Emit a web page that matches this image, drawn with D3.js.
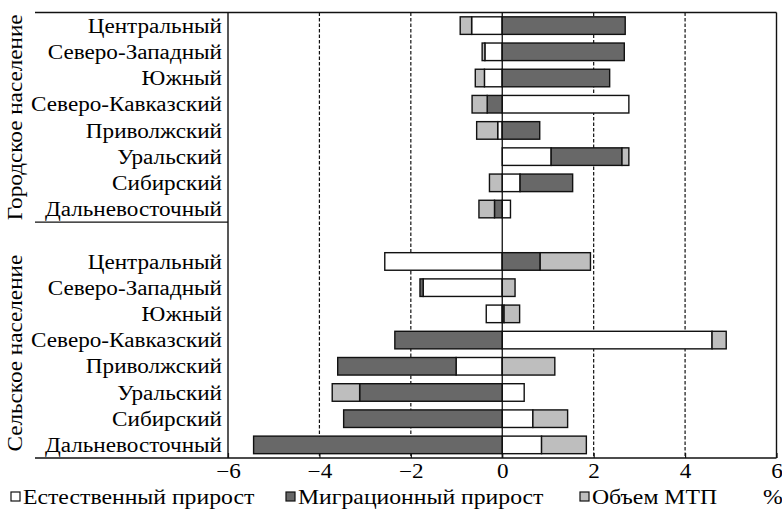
<!DOCTYPE html>
<html>
<head>
<meta charset="utf-8">
<script src="https://cdn.jsdelivr.net/npm/d3@7"></script>
<style>
  body { margin: 0; background: #fff; }
  text { font-family: "Liberation Serif", "Times New Roman", serif; fill: #000; }
</style>
</head>
<body>
<svg id="chart" width="782" height="511"></svg>
<script>
// Regions (same order in both groups)
const regions = ["Центральный", "Северо-Западный", "Южный", "Северо-Кавказский",
  "Приволжский", "Уральский", "Сибирский", "Дальневосточный"];
const groups = ["Городское население", "Сельское население"];

// Values, %
const urbanNatural   = [-0.67, -0.38, -0.39, 2.77, -0.10, 1.07, 0.39, 0.18];
const urbanMigration = [2.69, 2.67, 2.35, -0.33, 0.82, 1.55, 1.15, -0.17];
const urbanMtp       = [-0.25, -0.06, -0.20, -0.33, -0.46, 0.15, -0.28, -0.34];
const ruralNatural   = [-2.57, -1.73, -0.35, 4.59, -1.01, 0.48, 0.67, 0.86];
const ruralMigration = [0.83, -0.07, 0.04, -2.35, -2.59, -3.12, -3.47, -5.44];
const ruralMtp       = [1.10, 0.28, 0.34, 0.31, 1.15, -0.60, 0.76, 0.98];

const xTicks = [-6, -4, -2, 0, 2, 4, 6];
const keys = ["natural", "migration", "mtp"];
const legendLabels = ["Естественный прирост", "Миграционный прирост", "Объем МТП"];
const unitLabel = "%";

// rows: 8 urban, one empty slot, 8 rural
const rows = [
  ...regions.map((r, i) => ({id: "u" + i, region: r, natural: urbanNatural[i], migration: urbanMigration[i], mtp: urbanMtp[i]})),
  {id: "gap", region: "", natural: 0, migration: 0, mtp: 0},
  ...regions.map((r, i) => ({id: "r" + i, region: r, natural: ruralNatural[i], migration: ruralMigration[i], mtp: ruralMtp[i]}))
];

const svg = d3.select("#chart");
const plotTop = 12.5, plotBottom = 458, plotLeft = 228, plotRight = 776.5, frameLeft = 35;
const stretch = 1.13; // the original serif face is wider than Liberation Serif

const x = d3.scaleLinear([-6, 6], [plotLeft, plotRight]);
const y = d3.scaleBand(rows.map(d => d.id), [plotTop, plotBottom])
  .paddingInner(0.33).paddingOuter(0.165);
const color = d3.scaleOrdinal(keys, ["#ffffff", "#686868", "#bebebe"]);

// grid lines
svg.append("g")
  .selectAll("line")
  .data(xTicks.filter(t => t !== 0 && Math.abs(t) !== 6))
  .join("line")
    .attr("x1", d => x(d)).attr("x2", d => x(d))
    .attr("y1", plotTop).attr("y2", plotBottom)
    .attr("stroke", "#111").attr("stroke-width", 1.2)
    .attr("stroke-dasharray", "3.5,2");

// stacked bars (diverging)
const series = d3.stack().keys(keys).offset(d3.stackOffsetDiverging)(rows);
svg.append("g")
  .selectAll("g")
  .data(series)
  .join("g")
    .attr("fill", d => color(d.key))
  .selectAll("rect")
  .data(d => d.filter(p => p.data.id !== "gap" && p[1] !== p[0]))
  .join("rect")
    .attr("x", d => x(Math.min(d[0], d[1])))
    .attr("y", d => y(d.data.id))
    .attr("width", d => Math.abs(x(d[1]) - x(d[0])))
    .attr("height", y.bandwidth())
    .attr("stroke", "#111")
    .attr("stroke-width", 1.4);

// zero line
svg.append("line")
  .attr("x1", x(0)).attr("x2", x(0)).attr("y1", plotTop).attr("y2", plotBottom)
  .attr("stroke", "#111").attr("stroke-width", 1.3);

// frame
const frame = svg.append("g").attr("stroke", "#111").attr("stroke-width", 1.4);
frame.append("line").attr("x1", frameLeft).attr("x2", plotRight).attr("y1", plotTop).attr("y2", plotTop);
frame.append("line").attr("x1", frameLeft).attr("x2", plotRight).attr("y1", plotBottom).attr("y2", plotBottom);
frame.append("line").attr("x1", plotLeft).attr("x2", plotLeft).attr("y1", plotTop).attr("y2", plotBottom);
frame.append("line").attr("x1", plotRight).attr("x2", plotRight).attr("y1", plotTop).attr("y2", plotBottom);
const sepY = y("gap") - y.step() * y.paddingInner() / 2;
frame.append("line").attr("x1", frameLeft).attr("x2", plotLeft).attr("y1", sepY).attr("y2", sepY);

// x axis: inner ticks + labels
const xAxis = d3.axisBottom(x).tickValues(xTicks).tickSizeInner(-5).tickSizeOuter(0)
  .tickFormat(d => d3.format("")(d).replace("-", "−"));
const ax = svg.append("g")
  .attr("transform", `translate(0,${plotBottom})`)
  .call(xAxis);
ax.select(".domain").remove();
ax.selectAll(".tick line").attr("stroke", "#111").attr("stroke-width", 1.2);
ax.selectAll(".tick text")
  .attr("y", 0).attr("dy", 0)
  .attr("transform", `translate(0,20) scale(${stretch},1)`)
  .style("font-family", "'Liberation Serif', serif")
  .style("font-size", "20.5px")
  .attr("fill", "#000");

// helper for stretched text
const stretchedText = (g, str, tx, ty, anchor, size, rot = 0) =>
  g.append("text")
    .attr("transform", `translate(${tx},${ty}) rotate(${rot}) scale(${stretch},1)`)
    .attr("text-anchor", anchor)
    .attr("dy", "0.35em")
    .style("font-size", size + "px")
    .text(str);

// region labels
const labels = svg.append("g");
rows.filter(d => d.id !== "gap").forEach(d => {
  stretchedText(labels, d.region, 222, y(d.id) + y.bandwidth() / 2, "end", 20.5);
});

// group labels (rotated)
const urbanMid = (y("u0") + y("u7") + y.bandwidth()) / 2;
const ruralMid = (y("r0") + y("r7") + y.bandwidth()) / 2;
stretchedText(labels, groups[0], 15, urbanMid, "middle", 20.5, -90);
stretchedText(labels, groups[1], 15, ruralMid, "middle", 20.5, -90);

// legend
const legendX = [11, 286, 580];
const legend = svg.append("g");
keys.forEach((k, i) => {
  legend.append("rect")
    .attr("x", legendX[i]).attr("y", 492)
    .attr("width", 9).attr("height", 9)
    .attr("fill", color(k)).attr("stroke", "#111").attr("stroke-width", 1.2);
  stretchedText(legend, legendLabels[i], legendX[i] + 12, 497, "start", 21);
});
stretchedText(legend, unitLabel, 763, 497, "start", 21);
</script>
</body>
</html>
